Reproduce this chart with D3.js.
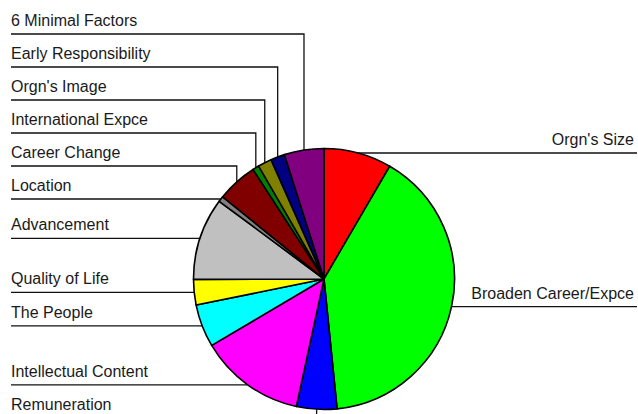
<!DOCTYPE html>
<html>
<head>
<meta charset="utf-8">
<script src="https://cdn.jsdelivr.net/npm/d3@7"></script>
<style>
  html, body { margin: 0; padding: 0; background: #fff; }
  svg { display: block; font-family: "Liberation Sans", Arial, sans-serif; }
</style>
</head>
<body>
<svg id="chart" width="638" height="414"></svg>
<script>
// Factors, in clockwise order from twelve o'clock
const factors = [
  "Orgn's Size", "Broaden Career/Expce", "Remuneration", "Intellectual Content",
  "The People", "Quality of Life", "Advancement", "Location", "Career Change",
  "International Expce", "Orgn's Image", "Early Responsibility", "6 Minimal Factors"
];
// Share of responses (%)
const shares = [8.4, 40.0, 5.0, 13.1, 5.3, 3.15, 10.2, 0.7, 5.0, 0.8, 1.7, 1.75, 4.9];
const sliceColors = [
  "#ff0000", "#00ff00", "#0000ff", "#ff00ff", "#00ffff", "#ffff00", "#c0c0c0",
  "#808080", "#800000", "#008000", "#808000", "#000080", "#800080"
];

const W = 638, H = 414;
const cx = 324, cy = 279, R = 130.5;
const labelGap = 33;       // minimum vertical distance between stacked labels
const leftX = 11, rightX = 637;

const svg = d3.select("#chart");

const data = factors.map((name, i) => ({ name, value: shares[i], color: sliceColors[i] }));

const pie = d3.pie().value(d => d.value).sort(null).startAngle(0).endAngle(2 * Math.PI);
const arcs = pie(data);
const arc = d3.arc().innerRadius(0).outerRadius(R);

// anchor on the rim at each slice's middle angle
arcs.forEach(a => {
  const m = (a.startAngle + a.endAngle) / 2;
  a.mid = m;
  a.ax = cx + R * Math.sin(m);
  a.ay = cy - R * Math.cos(m);
  a.side = m > Math.PI ? "left" : "right";
  a.ly = a.ay;
});

// keep labels on each side apart: above the centre push upward, below push downward
["left", "right"].forEach(side => {
  const list = arcs.filter(a => a.side === side).sort((p, q) => p.ay - q.ay);
  const upper = list.filter(a => a.ay < cy);
  const lower = list.filter(a => a.ay >= cy);
  for (let i = upper.length - 2; i >= 0; i--) {
    upper[i].ly = Math.min(upper[i].ay, upper[i + 1].ly - labelGap);
  }
  for (let i = 1; i < lower.length; i++) {
    lower[i].ly = Math.max(lower[i].ay, lower[i - 1].ly + labelGap);
  }
});

// leader lines
const leaders = svg.append("g")
  .attr("fill", "none")
  .attr("stroke", "#111")
  .attr("stroke-width", 1.3);

arcs.forEach(a => {
  const p = d3.path();
  p.moveTo(a.side === "left" ? leftX : rightX, a.ly);
  p.lineTo(a.ax, a.ly);
  p.lineTo(a.ax, a.ay);
  leaders.append("path").attr("d", p.toString());
});

// slices
svg.append("g")
  .attr("transform", `translate(${cx},${cy})`)
  .selectAll("path")
  .data(arcs)
  .join("path")
  .attr("d", arc)
  .attr("fill", d => d.data.color)
  .attr("stroke", "#000")
  .attr("stroke-width", 1.6)
  .attr("stroke-linejoin", "round");

// labels sit just above their leader lines
svg.append("g")
  .attr("font-size", 16)
  .attr("fill", "#1a1a1a")
  .selectAll("text")
  .data(arcs)
  .join("text")
  .attr("x", d => d.side === "left" ? leftX : rightX - 3)
  .attr("y", d => d.ly - 8)
  .attr("text-anchor", d => d.side === "left" ? "start" : "end")
  .text(d => d.data.name);
</script>
</body>
</html>
